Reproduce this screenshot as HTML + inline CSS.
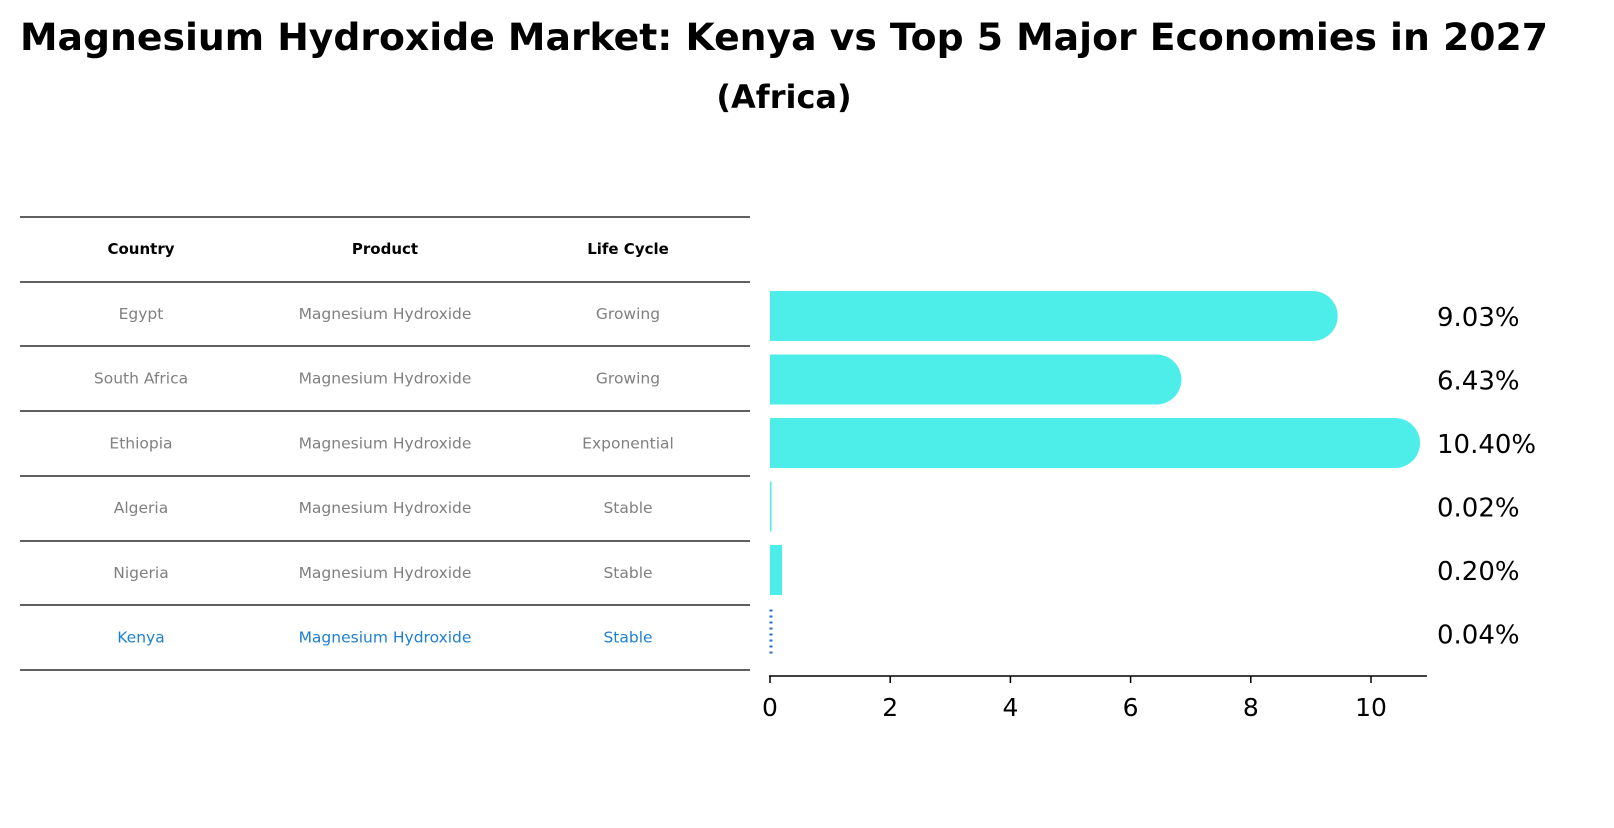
<!DOCTYPE html>
<html><head><meta charset="utf-8"><style>
body{margin:0;background:#fff;font-family:"Liberation Sans","DejaVu Sans",sans-serif;overflow:hidden}
</style></head><body>
<svg width="1614" height="823" viewBox="0 0 1614 823" xmlns="http://www.w3.org/2000/svg" font-family="DejaVu Sans, Liberation Sans, sans-serif">
<text x="784" y="50" text-anchor="middle" font-size="37" font-weight="bold" textLength="1528" lengthAdjust="spacingAndGlyphs">Magnesium Hydroxide Market: Kenya vs Top 5 Major Economies in 2027</text>
<text x="784" y="108" text-anchor="middle" font-size="32" font-weight="bold">(Africa)</text>
<g id="table"></g>
<g id="bars"></g>
</svg>
<script>
const countries=["Egypt","South Africa","Ethiopia","Algeria","Nigeria","Kenya"];
const products=["Magnesium Hydroxide","Magnesium Hydroxide","Magnesium Hydroxide","Magnesium Hydroxide","Magnesium Hydroxide","Magnesium Hydroxide"];
const lifeCycles=["Growing","Growing","Exponential","Stable","Stable","Stable"];
const values=[9.03,6.43,10.40,0.02,0.20,0.04];
const valueLabels=["9.03%","6.43%","10.40%","0.02%","0.20%","0.04%"];
const ticks=[0,2,4,6,8,10];
const NS="http://www.w3.org/2000/svg";
function mk(tag,attrs,parent){const e=document.createElementNS(NS,tag);for(const k in attrs)e.setAttribute(k,attrs[k]);parent.appendChild(e);return e;}
const tbl=document.getElementById('table');
const colX=[141,385,628];
const lineYs=[217,282,346,411,476,541,605,670];
lineYs.forEach(y=>{const l=mk('line',{x1:20,x2:750,y1:y,y2:y,stroke:'#000','stroke-width':1.2},tbl);

});
["Country","Product","Life Cycle"].forEach((h,i)=>{const t=mk('text',{x:colX[i],y:254,'text-anchor':'middle','font-size':15,'font-weight':'bold'},tbl);t.textContent=h;

});
countries.forEach((c,r)=>{const y=319+r*64.7;const col=c==="Kenya"?"#1f7fd0":"#808080";
[c,products[r],lifeCycles[r]].forEach((v,i)=>{const t=mk('text',{x:colX[i],y:y,'text-anchor':'middle','font-size':15.5,fill:col},tbl);t.textContent=v;

});});
const g=document.getElementById('bars');
const x0=770,px=60.1;const xs=v=>x0+v*px;
const bh=50;
values.forEach((v,i)=>{const cy=316+i*63.5;
if(countries[i]==="Kenya"){
 const l=mk('line',{x1:771,x2:771,y1:cy-24,y2:cy+24,stroke:'#1f6fd8','stroke-width':3,'stroke-dasharray':'2,4'},g);
 
 
}else{
 const r=mk('rect',{x:x0,y:cy-bh/2,width:Math.max(xs(v)-x0,1.5),height:bh,fill:'#4deeea'},g);
 
 
 if(v>1){const c=mk('circle',{cx:xs(v),cy:cy,r:25,fill:'#4deeea'},g);
 
 }
}
const t=mk('text',{x:1437,y:cy+10,'font-size':26},g);t.textContent=valueLabels[i];


});
const ax=mk('line',{x1:769,x2:1427,y1:676,y2:676,stroke:'#000','stroke-width':1.5},g);


ticks.forEach(v=>{const tk=mk('line',{x1:xs(v),x2:xs(v),y1:676,y2:683,stroke:'#000','stroke-width':1.5},g);


const t=mk('text',{x:xs(v),y:716,'text-anchor':'middle','font-size':25},g);t.textContent=v;

});
</script>
</body></html>
